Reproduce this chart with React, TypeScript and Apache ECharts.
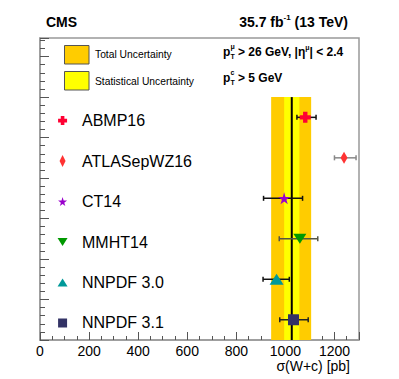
import React, { useEffect, useRef } from 'react';
import * as echarts from 'echarts';

// ---------- data ----------
const pdfNames = ['ABMP16', 'ATLASepWZ16', 'CT14', 'MMHT14', 'NNPDF 3.0', 'NNPDF 3.1'];
const rowPositions = [5.5, 4.5, 3.5, 2.5, 1.5, 0.5];
const predCentral = [1081, 1239, 995, 1059, 964, 1033];
const predLow = [1047, 1200, 911, 975, 909, 977];
const predHigh = [1125, 1288, 1070, 1132, 1016, 1093];
const measured = 1026;
const statUnc = 31;
const totalUncDown = 84;
const totalUncUp = 79;
const bandTop = 6.0;
const xTickValues = [0, 200, 400, 600, 800, 1000, 1200];

// ---------- styling ----------
const FONT = '"Liberation Sans", Arial, Helvetica, sans-serif';
const markerColors = ['#ff0033', '#ff3333', '#9900cc', '#009900', '#009999', '#333366'];
const barColors = ['#111111', '#888888', '#111111', '#555544', '#111111', '#222222'];
const plusPath = 'path://M3,0H7V3H10V7H7V10H3V7H0V3H3Z';
const starPath = 'path://M50,0L61,35L98,35L68,57L79,91L50,70L21,91L32,57L2,35L39,35Z';
const symbols = [plusPath, 'diamond', starPath, 'triangle', 'triangle', 'rect'];
const symbolSizes: number[][] = [[11, 11], [7, 12], [12, 12], [13, 10], [14, 11], [11, 11]];
const legendSymbolSizes: number[][] = [[9, 9], [6, 12], [9, 9], [10, 8], [10, 8], [9, 9]];
const symbolRotates = [0, 0, 0, 180, 0, 0];
const LEGEND_MARKER_X = 92;
const LEGEND_ROW_OFFSET = -0.08;

export default function App() {
  const ref = useRef<HTMLDivElement>(null);

  useEffect(() => {
    if (!ref.current) return;
    const chart = echarts.init(ref.current, null, { renderer: 'svg' });

    const bandSeries: any = {
      type: 'custom',
      z: 1,
      silent: true,
      data: [
        [measured - totalUncDown, measured + totalUncUp, bandTop, 0],
        [measured - statUnc, measured + statUnc, bandTop, 1],
      ],
      encode: { x: [0, 1], y: 2 },
      renderItem: (params: any, api: any) => {
        const p0 = api.coord([api.value(0), bandTop]);
        const p1 = api.coord([api.value(1), 0]);
        const isStat = api.value(3) === 1;
        return {
          type: 'rect',
          shape: { x: p0[0], y: p0[1], width: p1[0] - p0[0], height: p1[1] - p0[1] },
          style: { fill: isStat ? '#ffff00' : '#ffcc00' },
        };
      },
    };

    const centralSeries: any = {
      type: 'custom',
      z: 2,
      silent: true,
      data: [[measured, bandTop]],
      renderItem: (params: any, api: any) => {
        const top = api.coord([api.value(0), api.value(1)]);
        const bot = api.coord([api.value(0), 0]);
        return {
          type: 'line',
          shape: { x1: top[0], y1: top[1], x2: bot[0], y2: bot[1] },
          style: { stroke: '#000', lineWidth: 2 },
        };
      },
    };

    const errorSeries: any = {
      type: 'custom',
      z: 3,
      silent: true,
      data: pdfNames.map((_, i) => [predCentral[i], rowPositions[i], predLow[i], predHigh[i], i]),
      encode: { x: [2, 3], y: 1 },
      renderItem: (params: any, api: any) => {
        const y = api.value(1);
        const lo = api.coord([api.value(2), y]);
        const hi = api.coord([api.value(3), y]);
        const color = barColors[api.value(4)];
        const st = { stroke: color, lineWidth: 1.5 };
        return {
          type: 'group',
          children: [
            { type: 'line', shape: { x1: lo[0], y1: lo[1], x2: hi[0], y2: hi[1] }, style: st },
            { type: 'line', shape: { x1: lo[0], y1: lo[1] - 2.5, x2: lo[0], y2: lo[1] + 2.5 }, style: st },
            { type: 'line', shape: { x1: hi[0], y1: hi[1] - 2.5, x2: hi[0], y2: hi[1] + 2.5 }, style: st },
          ],
        };
      },
    };

    const markerSeries: any[] = pdfNames.map((name, i) => ({
      type: 'scatter',
      name,
      z: 4,
      silent: true,
      symbol: symbols[i],
      symbolRotate: symbolRotates[i],
      symbolSize: (_v: any, p: any) => (p.dataIndex === 0 ? symbolSizes[i] : legendSymbolSizes[i]),
      itemStyle: { color: markerColors[i], opacity: 1 },
      data: [
        [predCentral[i], rowPositions[i]],
        [LEGEND_MARKER_X, rowPositions[i] + LEGEND_ROW_OFFSET],
      ],
    }));

    const staticGraphics: any[] = [
      { type: 'text', x: 46, y: 22, style: { text: 'CMS', font: `bold 14px ${FONT}`, fill: '#000', verticalAlign: 'middle' } },
      {
        type: 'text', x: 348, y: 22,
        style: {
          text: '{a|35.7 fb}{s|-1}{a| (13 TeV)}', align: 'right', verticalAlign: 'middle',
          rich: {
            a: { fontFamily: FONT, fontWeight: 'bold', fontSize: 14, fill: '#000', lineHeight: 18 },
            s: { fontFamily: FONT, fontWeight: 'bold', fontSize: 8, fill: '#000', lineHeight: 18, verticalAlign: 'top' },
          },
        },
      },
      { type: 'rect', shape: { x: 64.5, y: 45.5, width: 24.5, height: 18.5 }, style: { fill: '#ffcc00', stroke: '#555', lineWidth: 1 } },
      { type: 'rect', shape: { x: 64.5, y: 71.5, width: 24.5, height: 18.5 }, style: { fill: '#ffff00', stroke: '#555', lineWidth: 1 } },
      { type: 'text', x: 95, y: 54.5, style: { text: 'Total Uncertainty', font: `10.3px ${FONT}`, fill: '#000', verticalAlign: 'middle' } },
      { type: 'text', x: 95, y: 81, style: { text: 'Statistical Uncertainty', font: `10.3px ${FONT}`, fill: '#000', verticalAlign: 'middle' } },
      // p_T^mu line
      { type: 'text', x: 223, y: 51.5, style: { text: 'p', font: `bold 12px ${FONT}`, fill: '#000', verticalAlign: 'middle' } },
      { type: 'text', x: 230.5, y: 46.5, style: { text: 'μ', font: `bold 7px ${FONT}`, fill: '#000', verticalAlign: 'middle' } },
      { type: 'text', x: 230.5, y: 56.5, style: { text: 'T', font: `bold 7px ${FONT}`, fill: '#000', verticalAlign: 'middle' } },
      {
        type: 'text', x: 238, y: 51.5,
        style: {
          text: '{a|> 26 GeV, |η}{s|μ}{a|| < 2.4}', verticalAlign: 'middle',
          rich: {
            a: { fontFamily: FONT, fontWeight: 'bold', fontSize: 12, fill: '#000', lineHeight: 16 },
            s: { fontFamily: FONT, fontWeight: 'bold', fontSize: 7, fill: '#000', lineHeight: 16, verticalAlign: 'top' },
          },
        },
      },
      // p_T^c line
      { type: 'text', x: 223, y: 77.5, style: { text: 'p', font: `bold 12px ${FONT}`, fill: '#000', verticalAlign: 'middle' } },
      { type: 'text', x: 230.5, y: 72.5, style: { text: 'c', font: `bold 7px ${FONT}`, fill: '#000', verticalAlign: 'middle' } },
      { type: 'text', x: 230.5, y: 82.5, style: { text: 'T', font: `bold 7px ${FONT}`, fill: '#000', verticalAlign: 'middle' } },
      { type: 'text', x: 238, y: 77.5, style: { text: '> 5 GeV', font: `bold 12px ${FONT}`, fill: '#000', verticalAlign: 'middle' } },
      // axis title
      { type: 'text', x: 350, y: 366, style: { text: 'σ(W+c) [pb]', font: `14px ${FONT}`, fill: '#000', align: 'right', verticalAlign: 'middle' } },
    ];

    const option: any = {
      animation: false,
      textStyle: { fontFamily: FONT },
      grid: { left: 40, right: 40, top: 38, bottom: 39, show: true, borderColor: '#999', borderWidth: 1.5, backgroundColor: 'transparent' },
      xAxis: {
        type: 'value',
        min: 0,
        max: 1300,
        interval: 200,
        axisLine: { show: true, lineStyle: { color: '#999', width: 1.5 } },
        axisTick: { show: true, inside: true, length: 8, lineStyle: { color: '#555' } },
        minorTick: { show: true, splitNumber: 4, length: 4, lineStyle: { color: '#555' } },
        splitLine: { show: false },
        axisLabel: {
          show: true, margin: 4, fontSize: 14, color: '#000', fontFamily: FONT,
          showMaxLabel: false,
          formatter: (v: number) => (xTickValues.indexOf(v) >= 0 ? String(v) : ''),
        },
      },
      yAxis: {
        type: 'value',
        min: 0,
        max: 7.46,
        interval: 1,
        axisLine: { show: true, lineStyle: { color: '#999', width: 1.5 } },
        axisTick: { show: true, inside: true, length: 9, lineStyle: { color: '#555' } },
        minorTick: { show: true, splitNumber: 5, length: 5, lineStyle: { color: '#555' } },
        splitLine: { show: false },
        axisLabel: { show: false },
      },
      series: [bandSeries, centralSeries, errorSeries, ...markerSeries],
      graphic: staticGraphics,
    };

    chart.setOption(option);

    const labelGraphics = pdfNames.map((name, i) => {
      const pt = chart.convertToPixel({ gridIndex: 0 }, [0, rowPositions[i] + LEGEND_ROW_OFFSET]) as number[];
      return {
        type: 'text',
        x: 82,
        y: pt[1],
        style: { text: name, font: `16px ${FONT}`, fill: '#000', verticalAlign: 'middle' },
      };
    });
    chart.setOption({ graphic: [...staticGraphics, ...labelGraphics] });

    return () => chart.dispose();
  }, []);

  return (
    <div
      ref={ref}
      style={{ position: 'absolute', left: 0, top: 0, width: 399, height: 379, background: '#fff' }}
    />
  );
}
